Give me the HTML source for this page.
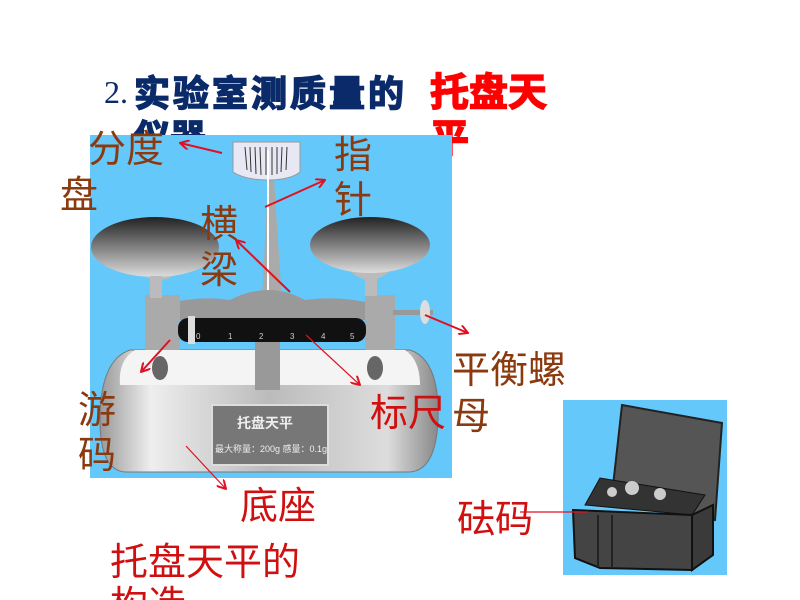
<!DOCTYPE html>
<html><head><meta charset="utf-8"><style>
body{margin:0;width:800px;height:600px;overflow:hidden;background:#fff;}
svg{display:block}
.s{font-family:"Liberation Sans","Noto Sans CJK SC",sans-serif;}
</style></head><body>
<svg width="800" height="600" viewBox="0 0 800 600">
<defs>
<linearGradient id="pan" x1="0" y1="0" x2="0" y2="1"><stop offset="0" stop-color="#222"/><stop offset="1" stop-color="#ddd"/></linearGradient>
<linearGradient id="base" x1="0" y1="0" x2="1" y2="0"><stop offset="0" stop-color="#999"/><stop offset="0.15" stop-color="#eee"/><stop offset="0.5" stop-color="#bbb"/><stop offset="0.85" stop-color="#ddd"/><stop offset="1" stop-color="#888"/></linearGradient>
<marker id="ar" markerWidth="10" markerHeight="10" refX="9" refY="5" orient="auto" markerUnits="userSpaceOnUse"><path d="M0,0 L9,5 L0,10" fill="none" stroke="#e01020" stroke-width="2"/></marker>
</defs>
<text x="104" y="103" style="font-family:'Liberation Serif',serif" font-size="32" fill="#0a2a6a">2.</text>
<text class="s" x="134" y="106" font-size="36" font-weight="bold" fill="#0a2a6a" letter-spacing="3" stroke="#0a2a6a" stroke-width="1.5">实验室测质量的</text>
<text class="s" x="134" y="150" font-size="36" font-weight="bold" fill="#0a2a6a" stroke="#0a2a6a" stroke-width="1.5">仪器</text>
<text class="s" x="430" y="106" font-size="39" font-weight="bold" fill="#f00" stroke="#f00" stroke-width="1.5">托盘天</text>
<text class="s" x="430" y="152" font-size="39" font-weight="bold" fill="#f00" stroke="#f00" stroke-width="1.5">平</text>
<rect x="90" y="135" width="362" height="343" fill="#64c8fa"/>
<!-- base -->
<path d="M130,350 L410,350 Q440,360 438,420 Q436,470 410,472 L125,472 Q100,470 100,420 Q100,360 130,350Z" fill="url(#base)" stroke="#777"/>
<path d="M135,350 L405,350 Q420,360 420,385 L120,385 Q118,360 135,350Z" fill="#f4f4f4"/>
<rect x="212" y="405" width="116" height="60" fill="#777" stroke="#ddd" stroke-width="2"/>
<text class="s" x="237" y="428" font-size="14" fill="#eee" font-weight="bold">托盘天平</text>
<text class="s" x="215" y="452" font-size="9" fill="#eee">最大称量：200g  感量：0.1g</text>
<ellipse cx="160" cy="368" rx="8" ry="12" fill="#666"/><ellipse cx="375" cy="368" rx="8" ry="12" fill="#666"/>
<!-- column and pointer -->
<path d="M262,300 L268,180 L274,180 L282,300Z" fill="#aaa"/>
<path d="M233,142 L300,142 L300,172 Q290,180 268,180 Q245,180 233,172Z" fill="#e8e8f4" stroke="#999"/>
<g stroke="#333" stroke-width="1"><line x1="245" y1="147" x2="247" y2="170"/><line x1="250" y1="147" x2="251" y2="172"/><line x1="255" y1="147" x2="256" y2="174"/><line x1="260" y1="147" x2="261" y2="175"/><line x1="266" y1="147" x2="266" y2="175"/><line x1="272" y1="147" x2="272" y2="175"/><line x1="277" y1="147" x2="277" y2="174"/><line x1="282" y1="147" x2="281" y2="172"/><line x1="287" y1="147" x2="286" y2="170"/></g>
<line x1="268" y1="150" x2="268" y2="300" stroke="#fff" stroke-width="2"/>
<!-- beam -->
<path d="M160,305 Q200,295 230,300 Q268,280 305,300 Q340,295 380,305 L380,320 L160,320Z" fill="#999"/>
<rect x="145" y="295" width="35" height="55" fill="#aaa"/><rect x="365" y="295" width="30" height="55" fill="#aaa"/>
<rect x="255" y="340" width="25" height="50" fill="#999"/>
<rect x="393" y="310" width="40" height="5" fill="#999"/><ellipse cx="425" cy="312" rx="5" ry="12" fill="#ddd"/>
<rect x="178" y="318" width="188" height="24" rx="10" fill="#111"/>
<g class="s" fill="#ccc" font-size="8"><text x="196" y="339">0</text><text x="228" y="339">1</text><text x="259" y="339">2</text><text x="290" y="339">3</text><text x="321" y="339">4</text><text x="350" y="339">5</text></g>
<rect x="188" y="316" width="7" height="28" fill="#ddd"/>
<!-- pans -->
<path d="M125,260 Q160,300 190,260Z" fill="#bbb"/><path d="M340,260 Q370,300 400,260Z" fill="#bbb"/>
<ellipse cx="155" cy="247" rx="64" ry="30" fill="url(#pan)"/>
<ellipse cx="370" cy="245" rx="60" ry="28" fill="url(#pan)"/>
<rect x="150" y="276" width="12" height="22" fill="#bbb"/><rect x="365" y="274" width="12" height="22" fill="#bbb"/>
<!-- weights box -->
<rect x="563" y="400" width="164" height="175" fill="#64c8fa"/>
<path d="M622,405 L722,423 L715,520 L612,495Z" fill="#555" stroke="#222" stroke-width="2"/>
<path d="M585,505 L600,478 L705,495 L692,515Z" fill="#333" stroke="#111"/>
<circle cx="632" cy="488" r="7" fill="#ccc"/><circle cx="612" cy="492" r="5" fill="#ccc"/><circle cx="660" cy="494" r="6" fill="#ccc"/>
<path d="M573,510 L692,515 L692,570 L600,568 L575,558Z" fill="#444" stroke="#111" stroke-width="2"/>
<path d="M692,515 L713,505 L713,555 L692,570Z" fill="#3a3a3a" stroke="#111" stroke-width="2"/>
<line x1="598" y1="515" x2="598" y2="567" stroke="#222" stroke-width="2"/><line x1="612" y1="515" x2="612" y2="568" stroke="#222" stroke-width="2"/>
<!-- arrows -->
<g stroke="#e01020" stroke-width="2" fill="none" marker-end="url(#ar)">
<line x1="222" y1="153" x2="180" y2="143"/>
<line x1="265" y1="207" x2="325" y2="180"/>
<line x1="290" y1="292" x2="236" y2="240"/>
<line x1="425" y1="315" x2="468" y2="333"/>
<line x1="170" y1="340" x2="141" y2="372"/>
<line x1="306" y1="335" x2="360" y2="385" stroke-width="1.2"/>
<line x1="186" y1="446" x2="226" y2="489" stroke-width="1.2"/>
</g>
<line x1="520" y1="512" x2="588" y2="512" stroke="#e01020" stroke-width="1.2"/>
<!-- labels -->
<g class="s" font-size="38" fill="#8b3a0f">
<text x="88" y="162">分度</text><text x="60" y="208">盘</text>
<text x="334" y="168">指</text><text x="334" y="213">针</text>
<text x="200" y="237">横</text><text x="200" y="283">梁</text>
<text x="452" y="383">平衡螺</text><text x="452" y="429">母</text>
<text x="78" y="423">游</text><text x="78" y="468">码</text>
</g>
<g class="s" font-size="38" fill="#d01010">
<text x="370" y="426">标尺</text>
<text x="240" y="519">底座</text>
<text x="457" y="532">砝码</text>
<text x="110" y="575">托盘天平的</text>
<text x="110" y="618">构造</text>
</g>
</svg>
</body></html>
